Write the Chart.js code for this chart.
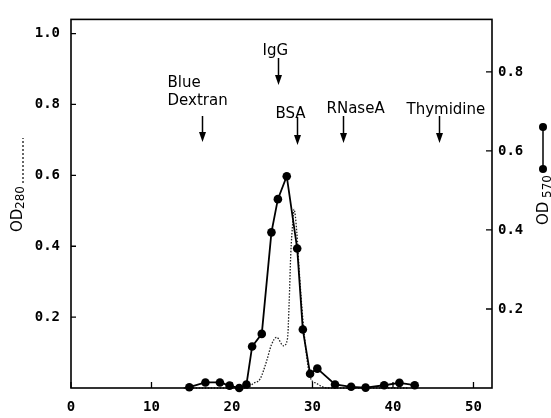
<!DOCTYPE html>
<html>
<head>
<meta charset="utf-8">
<script src="https://cdn.jsdelivr.net/npm/chart.js@4/dist/chart.umd.min.js"></script>
<style>
  body { margin: 0; background: #fff; }
  canvas { display: block; }
</style>
</head>
<body>
<canvas id="chart-elution" width="551" height="418"></canvas>
<script>
// fraction number vs OD570 (solid, right axis)
const fractions570 = [14.7, 16.7, 18.5, 19.7, 20.9, 21.8, 22.5, 23.7, 24.9, 25.7, 26.8, 28.1, 28.8, 29.7, 30.6, 32.8, 34.8, 36.6, 38.9, 40.8, 42.7];
const od570 = [0.002, 0.014, 0.014, 0.006, 0.0, 0.009, 0.105, 0.137, 0.394, 0.478, 0.536, 0.353, 0.148, 0.036, 0.049, 0.009, 0.003, 0.001, 0.007, 0.013, 0.007];

// fraction number vs OD280 (dotted, left axis)
const fractions280 = [14, 21.8, 22.65, 23.5, 24.3, 24.9, 25.55, 26.4, 26.9, 27.1, 27.3, 27.55, 27.7, 28.05, 28.35, 28.8, 29.3, 29.7, 30.5, 31.8, 42];
const od280 = [0, 0, 0.013, 0.026, 0.076, 0.122, 0.143, 0.119, 0.14, 0.24, 0.377, 0.468, 0.504, 0.44, 0.331, 0.195, 0.085, 0.031, 0.013, 0, 0];

// elution markers
const markerNames = [["Blue", "Dextran"], ["IgG"], ["BSA"], ["RNaseA"], ["Thymidine"]];
const markerFractions = [16.25, 25.75, 28.1, 33.75, 45.7];

const xTicks = [0, 10, 20, 30, 40, 50];
const leftTicks = [0.2, 0.4, 0.6, 0.8, 1.0];
const rightTicks = [0.2, 0.4, 0.6, 0.8];

const tickFont = { family: "'DejaVu Sans Mono', monospace", size: 14, weight: "bold" };

// label placement for each marker: text left offset from arrow, text baseline, arrow top, arrow bottom
const markerLayout = [
  { dx: -35, base: [86.7, 105], top: 116, bottom: 142 },
  { dx: -16, base: [55], top: 58, bottom: 85 },
  { dx: -22, base: [118], top: 117, bottom: 145 },
  { dx: -17, base: [112.7], top: 116, bottom: 143 },
  { dx: -33, base: [114], top: 116, bottom: 143 },
];

const framePlugin = {
  id: "frame",
  afterDraw(chart) {
    const ctx = chart.ctx;
    const a = chart.chartArea;
    const sx = chart.scales.x, yl = chart.scales.yL, yr = chart.scales.yR;
    ctx.save();
    ctx.strokeStyle = "#000";
    ctx.lineWidth = 1.6;
    ctx.strokeRect(a.left, a.top, a.right - a.left, a.bottom - a.top);

    // inward ticks
    ctx.lineWidth = 1.3;
    ctx.beginPath();
    xTicks.forEach(v => {
      const px = sx.getPixelForValue(v);
      ctx.moveTo(px, a.bottom);
      ctx.lineTo(px, a.bottom - 6);
    });
    leftTicks.forEach(v => {
      const py = yl.getPixelForValue(v);
      ctx.moveTo(a.left, py);
      ctx.lineTo(a.left + 5, py);
    });
    rightTicks.forEach(v => {
      const py = yr.getPixelForValue(v);
      ctx.moveTo(a.right, py);
      ctx.lineTo(a.right - 6, py);
    });
    ctx.stroke();

    // marker labels and arrows
    ctx.fillStyle = "#000";
    ctx.font = "15px 'DejaVu Sans', sans-serif";
    ctx.textAlign = "left";
    ctx.textBaseline = "alphabetic";
    markerNames.forEach((lines, i) => {
      const px = Math.round(sx.getPixelForValue(markerFractions[i])) + 0.5;
      const l = markerLayout[i];
      lines.forEach((t, j) => ctx.fillText(t, px + l.dx, l.base[j]));
      ctx.lineWidth = 1.5;
      ctx.beginPath();
      ctx.moveTo(px, l.top);
      ctx.lineTo(px, l.bottom - 7);
      ctx.stroke();
      ctx.beginPath();
      ctx.moveTo(px - 3.5, l.bottom - 10);
      ctx.lineTo(px + 3.5, l.bottom - 10);
      ctx.lineTo(px, l.bottom);
      ctx.closePath();
      ctx.fill();
    });

    // left axis title: OD280 ------
    ctx.save();
    ctx.translate(22, 232);
    ctx.rotate(-Math.PI / 2);
    ctx.font = "15px 'DejaVu Sans', sans-serif";
    ctx.fillText("OD", 0, 0);
    ctx.font = "12px 'DejaVu Sans', sans-serif";
    ctx.fillText("280", 23, 2);
    ctx.lineWidth = 1.2;
    ctx.setLineDash([2, 2]);
    ctx.beginPath();
    ctx.moveTo(49, 1);
    ctx.lineTo(94, 1);
    ctx.stroke();
    ctx.restore();

    // right axis title with symbol: OD 570
    ctx.lineWidth = 1.5;
    ctx.beginPath();
    ctx.moveTo(543, 127);
    ctx.lineTo(543, 169);
    ctx.stroke();
    [127, 169].forEach(y => {
      ctx.beginPath();
      ctx.arc(543, y, 4, 0, Math.PI * 2);
      ctx.fill();
    });
    ctx.save();
    ctx.translate(548, 225);
    ctx.rotate(-Math.PI / 2);
    ctx.font = "15px 'DejaVu Sans', sans-serif";
    ctx.fillText("OD", 0, 0);
    ctx.font = "12px 'DejaVu Sans', sans-serif";
    ctx.fillText("570", 27, 3);
    ctx.restore();

    ctx.restore();
  }
};

new Chart(document.getElementById("chart-elution"), {
  type: "line",
  data: {
    datasets: [
      {
        label: "OD570",
        yAxisID: "yR",
        data: fractions570.map((f, i) => ({ x: f, y: od570[i] })),
        borderColor: "#000",
        backgroundColor: "#000",
        borderWidth: 1.8,
        pointRadius: 4.3,
        pointBorderWidth: 0,
        tension: 0,
        clip: false,
      },
      {
        label: "OD280",
        yAxisID: "yL",
        data: fractions280.map((f, i) => ({ x: f, y: od280[i] })),
        borderColor: "#222",
        borderWidth: 1.3,
        borderDash: [1.5, 1.5],
        pointRadius: 0,
        cubicInterpolationMode: "monotone",
        clip: false,
      },
    ],
  },
  options: {
    responsive: false,
    animation: false,
    devicePixelRatio: 1,
    layout: { padding: { top: 7, left: 0, right: 0, bottom: 0 } },
    plugins: {
      legend: { display: false },
      tooltip: { enabled: false },
    },
    scales: {
      x: {
        type: "linear",
        min: 0,
        max: 52.3,
        afterBuildTicks: s => { s.ticks = xTicks.map(v => ({ value: v })); },
        afterFit: s => { s.height = 30; },
        grid: { display: false, drawTicks: false },
        border: { display: false },
        ticks: { font: tickFont, color: "#000", padding: 11, maxRotation: 0 },
      },
      yL: {
        position: "left",
        min: 0,
        max: 1.04,
        afterBuildTicks: s => { s.ticks = leftTicks.map(v => ({ value: v })); },
        afterFit: s => { s.width = 71; },
        grid: { display: false, drawTicks: false },
        border: { display: false },
        ticks: { font: tickFont, color: "#000", padding: 11, callback: v => v.toFixed(1) },
      },
      yR: {
        position: "right",
        min: 0,
        max: 0.933,
        afterBuildTicks: s => { s.ticks = rightTicks.map(v => ({ value: v })); },
        afterFit: s => { s.width = 59; },
        grid: { display: false, drawTicks: false },
        border: { display: false },
        ticks: { font: tickFont, color: "#000", padding: 6, callback: v => v.toFixed(1) },
      },
    },
  },
  plugins: [framePlugin],
});
</script>
</body>
</html>
